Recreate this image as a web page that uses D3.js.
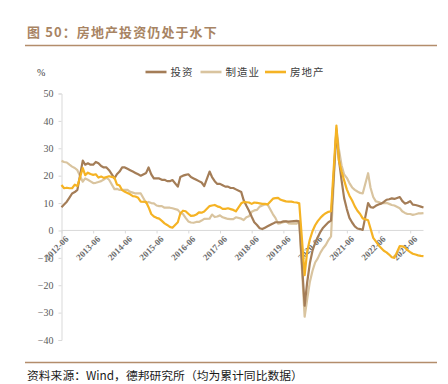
<!DOCTYPE html>
<html><head><meta charset="utf-8">
<script src="https://cdn.jsdelivr.net/npm/d3@7"></script>
<style>
body{margin:0;background:#fff;}
svg{display:block;}
</style></head>
<body>
<svg id="c" width="448" height="384"></svg>
<script>
// ---------- data ----------
const title = "图 50：房地产投资仍处于水下";
const source = "资料来源：Wind，德邦研究所（均为累计同比数据）";
const seriesNames = ["投资", "制造业", "房地产"];
const seriesColors = ["#a47d57", "#d9c49f", "#f5b324"];
const xTickLabels = ["2012-06","2013-06","2014-06","2015-06","2016-06","2017-06","2018-06","2019-06","2020-06","2021-06","2022-06","2023-06"];
const yTicks = [-40,-30,-20,-10,0,10,20,30,40,50];
// monthly cumulative data, Jun-2012 .. Nov-2023 (January merged into Feb)
const startMonth = "2012-06", endMonth = "2023-11";

const invest = [
  8.5, 9.5, 10.5, 12.0, 13.5, 14.0, 14.8,
  25.5, 24.0, 24.5, 24.0, 24.0, 25.0, 24.5, 23.5, 23.0, 23.0, 22.0,
  19.0, 20.5, 21.5, 23.0, 23.0, 22.5, 22.0, 21.5, 21.0, 20.5, 20.0,
  21.0, 23.0, 20.5, 19.0, 19.0, 19.0, 18.5, 18.5, 18.0, 18.0, 18.4,
  16.0, 19.5, 20.0, 20.3, 20.5, 19.5, 19.0, 18.5, 18.0, 17.5, 16.2,
  21.5, 19.5, 18.0, 17.0, 17.0, 16.5, 16.0, 16.0, 15.5, 15.5, 15.0,
  14.0, 11.0, 9.0, 7.2, 5.0, 3.0, 2.0, 0.8, 0.5, 1.0, 1.5,
  2.5, 3.0, 3.0, 3.0, 3.3, 3.3, 3.2, 3.3, 3.4, 3.5, 3.3,
  -27.5, -19.0, -12.0, -7.5, -4.5, -2.5, -0.5, 1.0, 2.0, 3.0, 3.6,
  36.5, 26.0, 18.4, 11.8, 7.8, 4.6, 2.9, 1.5, 0.7, 0.5, 0.2,
  10.0, 8.5, 8.3, 9.0, 9.5, 9.8, 10.4, 11.2, 11.4, 11.7, 11.5,
  12.2, 10.8, 9.8, 10.1, 10.7, 9.4, 9.3, 9.0, 8.7, 8.4
];
const manuf = [
  25.4, 25.0, 24.8, 24.0, 23.3, 22.8, 22.0,
  17.8, 19.0, 18.5, 17.9, 17.3, 17.4, 17.7, 18.0, 18.6, 19.3, 18.5,
  15.1, 15.2, 14.8, 14.8, 14.8, 14.8, 14.1, 13.8, 13.5, 13.5, 13.5,
  10.0, 10.4, 10.0, 9.9, 9.1, 8.9, 8.9, 8.3, 8.3, 8.3, 8.1,
  7.5, 6.4, 6.0, 4.6, 3.3, 2.9, 2.8, 3.1, 3.1, 3.6, 4.2,
  4.3, 5.8, 4.9, 5.1, 5.5, 4.8, 4.5, 4.2, 4.1, 4.1, 4.8,
  4.3, 3.8, 4.8, 5.2, 6.8, 7.3, 7.5, 8.7, 9.1, 9.5, 9.5,
  5.9, 4.6, 2.5, 2.7, 3.0, 3.3, 2.6, 2.5, 2.6, 2.5, 3.1,
  -31.5, -25.2, -18.8, -14.8, -11.7, -10.2, -8.1, -6.5, -5.3, -3.5, -2.2,
  37.3, 29.8, 23.8, 20.4, 19.2, 17.3, 15.7, 14.8, 14.2, 13.7, 13.5,
  20.9, 15.6, 12.2, 10.6, 10.4, 9.9, 10.0, 10.1, 9.7, 9.3, 9.1,
  8.1, 7.0, 6.4, 6.0, 6.0, 5.7, 5.9, 6.2, 6.2, 6.3
];
const estate = [
  16.6, 15.4, 15.6, 15.4, 15.4, 16.7, 16.2,
  22.8, 20.2, 21.1, 20.6, 20.3, 20.5, 19.3, 19.7, 19.2, 19.5, 19.8,
  19.3, 16.8, 16.4, 14.7, 14.1, 13.7, 13.2, 12.5, 12.4, 11.9, 10.5,
  10.4, 8.5, 6.0, 5.1, 4.6, 4.3, 3.5, 2.6, 2.0, 1.3, 1.0,
  3.0, 6.2, 7.2, 7.0, 6.1, 5.3, 5.4, 5.8, 6.6, 6.5, 6.9,
  8.9, 9.1, 9.3, 8.8, 8.5, 7.9, 7.9, 8.1, 7.8, 7.5, 7.0,
  9.9, 10.4, 10.3, 10.2, 9.7, 10.2, 10.1, 9.9, 9.7, 9.7, 9.5,
  11.6, 11.8, 11.9, 11.2, 10.9, 10.6, 10.5, 10.5, 10.3, 10.2, 9.9,
  -16.3, -7.7, -3.3, -0.3, 1.9, 3.4, 4.6, 5.6, 6.3, 6.8, 7.0,
  38.3, 25.6, 21.6, 18.3, 15.0, 12.7, 10.9, 8.8, 7.2, 6.0, 4.4,
  3.7, 0.7, -2.7, -4.0, -5.4, -6.4, -7.4, -8.0, -8.8, -9.8, -10.0,
  -5.7, -5.8, -6.2, -7.2, -7.9, -8.5, -8.8, -9.1, -9.3, -9.4
];

// ---------- build dates ----------
const parse = d3.timeParse("%Y-%m");
const dates = d3.timeMonth.range(parse(startMonth), d3.timeMonth.offset(parse(endMonth),1))
  .filter(d => d.getMonth() !== 0);
const allSeries = [invest, manuf, estate];

// ---------- chart ----------
const svg = d3.select("#c");
const x = d3.scaleTime().domain([parse("2012-06"), parse("2023-06")]).range([61.5, 410.2]);
const y = d3.scaleLinear().domain([-40, 50]).range([340, 93.5]);

// title
svg.append("text").attr("x", 27).attr("y", 37)
  .attr("font-family", "'Noto Sans CJK SC', sans-serif").attr("font-weight", "bold")
  .attr("font-size", 13).attr("letter-spacing", 1.1).attr("fill", "#a88463").text(title);
svg.append("line").attr("x1", 25).attr("x2", 437).attr("y1", 45.5).attr("y2", 45.5)
  .attr("stroke", "#b38d6b").attr("stroke-width", 1.6);

// % label
svg.append("text").attr("x", 37).attr("y", 76).attr("font-family", "'Liberation Serif', serif")
  .attr("font-size", 10).attr("fill", "#404040").text("%");

// y axis
const yAxis = svg.append("g").attr("transform", "translate(61.5,0)")
  .call(d3.axisLeft(y).tickValues(yTicks).tickSize(3).tickPadding(5));
yAxis.select(".domain").attr("stroke", "#d9d9d9");
yAxis.selectAll(".tick line").attr("stroke", "#d9d9d9");
yAxis.selectAll(".tick text").attr("font-family", "'Liberation Serif', serif")
  .attr("font-size", 10).attr("fill", "#595959");

// x axis at zero
const tickDates = xTickLabels.map(parse);
const xAxis = svg.append("g").attr("transform", `translate(0,${y(0)})`)
  .call(d3.axisBottom(x).tickValues(tickDates).tickSize(3).tickFormat(""));
xAxis.select(".domain").attr("d", `M61.5,0H${x(dates[dates.length-1])}`).attr("stroke", "#d9d9d9");
xAxis.selectAll(".tick line").attr("stroke", "#d9d9d9");
xAxis.selectAll(".tick").append("text")
  .attr("transform", "translate(5,7) rotate(-45)")
  .attr("text-anchor", "end").attr("dy", "0.35em")
  .attr("font-family", "'Liberation Serif', serif").attr("font-weight", "bold")
  .attr("font-size", 9).attr("fill", "#6e6e6e")
  .text((d, i) => xTickLabels[i]);

// lines
const line = d3.line().x((d, i) => x(dates[i])).y(d => y(d));
[1, 0, 2].forEach(k => {
  svg.append("path").datum(allSeries[k]).attr("d", line)
    .attr("fill", "none").attr("stroke", seriesColors[k]).attr("stroke-width", 2.2)
    .attr("stroke-linejoin", "round");
});

// legend
const legX = [145.5, 200.5, 265];
seriesNames.forEach((n, i) => {
  svg.append("line").attr("x1", legX[i]).attr("x2", legX[i] + 21).attr("y1", 72).attr("y2", 72)
    .attr("stroke", seriesColors[i]).attr("stroke-width", 2.6);
  svg.append("text").attr("x", legX[i] + 25).attr("y", 76)
    .attr("font-family", "'Noto Sans CJK SC', sans-serif").attr("font-size", 10.5)
    .attr("letter-spacing", 1).attr("fill", "#404040").text(n);
});

// bottom rule and source
svg.append("line").attr("x1", 25).attr("x2", 437).attr("y1", 362.5).attr("y2", 362.5)
  .attr("stroke", "#b38d6b").attr("stroke-width", 1.4);
svg.append("text").attr("x", 27).attr("y", 380)
  .attr("font-family", "'Noto Sans CJK SC', sans-serif").attr("font-size", 11.8)
  .attr("fill", "#1a1a1a").text(source);
</script>
</body></html>
